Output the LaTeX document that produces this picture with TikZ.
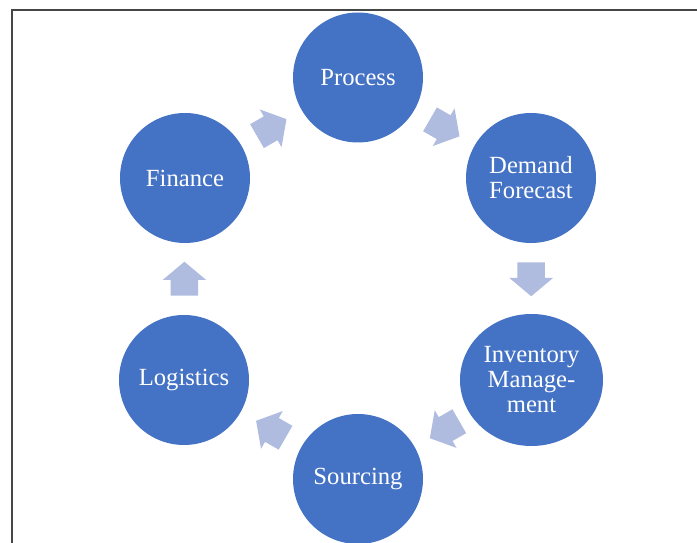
\documentclass[tikz,border=0pt]{standalone}
\usepackage{fontspec}
\setmainfont{Liberation Serif}
\usetikzlibrary{calc,shapes.geometric,shapes.arrows}
\definecolor{stepblue}{RGB}{68,114,196}
\definecolor{flowblue}{RGB}{175,188,223}
\definecolor{framegray}{RGB}{70,70,70}

\begin{document}
\begin{tikzpicture}[x=0.75pt,y=0.75pt,
    stepnode/.style={circle,fill=stepblue,text=white,minimum size=97.5pt,inner sep=0pt,
        align=center,font=\fontsize{18.5}{18.75}\selectfont},
    flowarrow/.style={single arrow,fill=flowblue,draw=none,inner xsep=0pt,inner ysep=10.125pt,
        minimum height=25.5pt,anchor=tail,
        single arrow head extend=6pt,single arrow tip angle=100}]
        \useasboundingbox (0,0) rectangle (697,543);
        %Straight Lines [frame]
        \draw [color=framegray,line width=1pt] (12,0) -- (12,533) -- (697,533) ;
        %Shape: Circle [proc]
        \node [stepnode] (proc) at (358,465.5) {Process};
        %Shape: Circle [dem]
        \node [stepnode] (dem) at (531,365) {Demand\\Forecast};
        %Shape: Ellipse [inv]
        \node [stepnode,ellipse,minimum width=107.25pt,minimum height=99pt] (inv) at (531.5,163) {Inventory\\Manage-\\ment};
        %Shape: Circle [src]
        \node [stepnode] (src) at (358,64) {Sourcing};
        %Shape: Circle [logi]
        \node [stepnode] (logi) at (184,163) {Logistics};
        %Shape: Circle [fin]
        \node [stepnode] (fin) at (185,365) {Finance};
        %Shape: Right Arrow
        \node [flowarrow,rotate=30] (a1) at ($(fin)!0.5!(proc)!12.75pt!(fin)$) {};
        \node [flowarrow,rotate=-30] (a2) at ($(proc)!0.5!(dem)!12.75pt!(proc)$) {};
        \node [flowarrow,rotate=-90] (a3) at ($(dem)!0.5!(inv)!12.75pt!(dem)$) {};
        \node [flowarrow,rotate=-150] (a4) at ($(inv)!0.5!(src)!12.75pt!(inv)$) {};
        \node [flowarrow,rotate=150] (a5) at ($(src)!0.5!(logi)!12.75pt!(src)$) {};
        \node [flowarrow,rotate=90] (a6) at ($(logi)!0.5!(fin)!12.75pt!(logi)$) {};
    \end{tikzpicture}
\end{document}
